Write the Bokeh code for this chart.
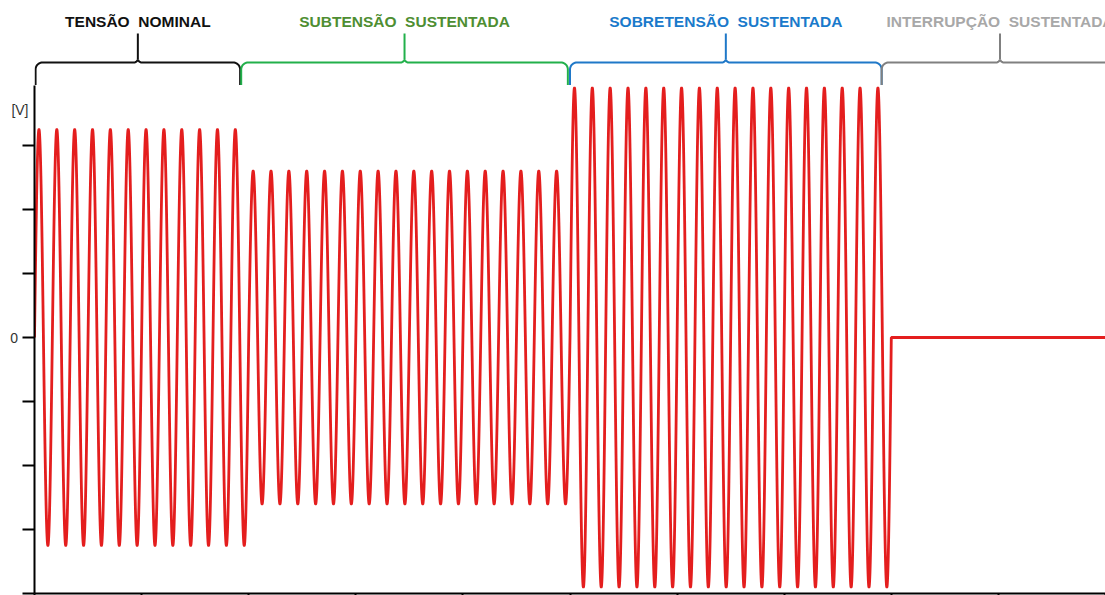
import numpy as np
from bokeh.plotting import figure
from bokeh.layouts import column
from bokeh.models import Range1d, FixedTicker, ColumnDataSource
from bokeh.core.properties import value
from bokeh.embed import file_html
from bokeh.resources import INLINE

# ---------------- data ----------------
SEGMENT_NAMES = ["TENSÃO\u00a0 NOMINAL", "SUBTENSÃO\u00a0 SUSTENTADA",
                 "SOBRETENSÃO\u00a0 SUSTENTADA", "INTERRUPÇÃO\u00a0 SUSTENTADA"]
SEG_START = [0.0, 0.2, 0.5, 0.8]          # s
SEG_END = [0.2, 0.5, 0.8, 1.0]            # s
SEG_AMPLITUDE = [325, 260, 390, 0]        # V (peak)
FREQ_HZ = 60
Y_TICKS = [-400, -300, -200, -100, 0, 100, 200, 300]
Y_LABELS = {0: "0\u00a0\u00a0\u2009", 355: "[V]"}   # labelled positions on the y axis
X_TICKS = [0.0, 0.1, 0.2, 0.3, 0.4, 0.5, 0.6, 0.7, 0.8, 0.9, 1.0]

# bracket spans (annotation positions, seconds)
BRACKET_START = [0.001, 0.193, 0.500, 0.791]
BRACKET_END = [0.192, 0.498, 0.791, 1.012]
BRACKET_COLORS = ["#111111", "#22b04b", "#1f78c8", "#808080"]
TEXT_COLORS = ["#111111", "#4e8e32", "#1a7acb", "#a8a8a8"]

FONT = "Liberation Sans"
X_RANGE = Range1d(0, 1.0)
FRAME_W = 1071
PX = (X_RANGE.end - X_RANGE.start) / FRAME_W   # seconds per pixel

# ---------------- waveform ----------------
t = np.linspace(0, 1.0, 24001)
amp = np.zeros_like(t)
for s, e, a in zip(SEG_START, SEG_END, SEG_AMPLITUDE):
    amp[(t >= s) & (t <= e)] = a
v = amp * np.sin(2 * np.pi * FREQ_HZ * t)

# ---------------- main figure ----------------
p = figure(width=1105, height=510, x_range=X_RANGE, y_range=Range1d(-400, 393.75),
           toolbar_location=None, output_backend="svg",
           min_border_left=34, min_border_right=0, min_border_top=0, min_border_bottom=2)
p.outline_line_color = None
p.grid.visible = False
p.background_fill_color = "white"
p.line(t, v, line_color="#e41e1e", line_width=2.8)

p.xaxis.ticker = FixedTicker(ticks=X_TICKS)
p.xaxis.major_tick_out = 2
p.xaxis.major_tick_in = 0
p.xaxis.minor_tick_line_color = None
p.xaxis.major_label_text_font_size = "0px"
p.xaxis.major_label_standoff = 0
p.xaxis.axis_line_width = 2
p.xaxis.major_tick_line_width = 2
p.xaxis.axis_line_color = "black"

# labels as major ticks (marks hidden), visible tick marks as minor ticks
p.yaxis.ticker = FixedTicker(ticks=list(Y_LABELS.keys()), minor_ticks=Y_TICKS)
p.yaxis.major_label_overrides = Y_LABELS
p.yaxis.major_tick_out = 3
p.yaxis.major_tick_in = 0
p.yaxis.major_tick_line_color = None
p.yaxis.minor_tick_out = 12
p.yaxis.minor_tick_in = 0
p.yaxis.minor_tick_line_color = "black"
p.yaxis.minor_tick_line_width = 2
p.yaxis.axis_line_width = 2
p.yaxis.axis_line_color = "black"
p.yaxis.major_label_text_font = FONT
p.yaxis.major_label_text_font_size = "14px"
p.yaxis.major_label_text_color = "#333333"
p.yaxis.major_label_standoff = -6

# ---------------- bracket strip ----------------
top = figure(width=1105, height=85, x_range=X_RANGE, y_range=Range1d(85, 0),
             toolbar_location=None, output_backend="svg",
             min_border_left=34, min_border_right=0, min_border_top=0, min_border_bottom=0)
top.outline_line_color = None
top.grid.visible = False
top.axis.visible = False


def bracket(xs, xe, y_line=62, y_end=86, y_tip=33, r=7, r2=4):
    xc = (xs + xe) / 2
    xx, yy = [xs], [y_end]
    th = np.linspace(np.pi, 1.5 * np.pi, 12)
    cx, cy = xs + r * PX, y_line + r
    xx += list(cx + r * PX * np.cos(th)); yy += list(cy + r * np.sin(th))
    th = np.linspace(0.5 * np.pi, 0, 10)
    cx, cy = xc - r2 * PX, y_line - r2
    xx += list(cx + r2 * PX * np.cos(th)); yy += list(cy + r2 * np.sin(th))
    xx += [xc]; yy += [y_tip]
    th = np.linspace(np.pi, 0.5 * np.pi, 10)
    cx, cy = xc + r2 * PX, y_line - r2
    xx += list(cx + r2 * PX * np.cos(th)); yy += list(cy + r2 * np.sin(th))
    th = np.linspace(1.5 * np.pi, 2 * np.pi, 12)
    cx, cy = xe - r * PX, y_line + r
    xx += list(cx + r * PX * np.cos(th)); yy += list(cy + r * np.sin(th))
    xx += [xe]; yy += [y_end]
    return xx, yy


for s, e, c in zip(BRACKET_START, BRACKET_END, BRACKET_COLORS):
    bx, by = bracket(s, e)
    top.line(bx, by, line_color=c, line_width=2)

centers = [(s + e) / 2 for s, e in zip(BRACKET_START, BRACKET_END)]
src = ColumnDataSource(dict(x=centers, y=[21] * 4, text=SEGMENT_NAMES, color=TEXT_COLORS))
top.text(x="x", y="y", text="text", text_color="color", source=src,
         text_font=value(FONT), text_font_size="15.5px", text_font_style="bold",
         text_align="center", text_baseline="middle")

layout = column(top, p, spacing=0)
open("out.html", "w").write(file_html(layout, INLINE))
